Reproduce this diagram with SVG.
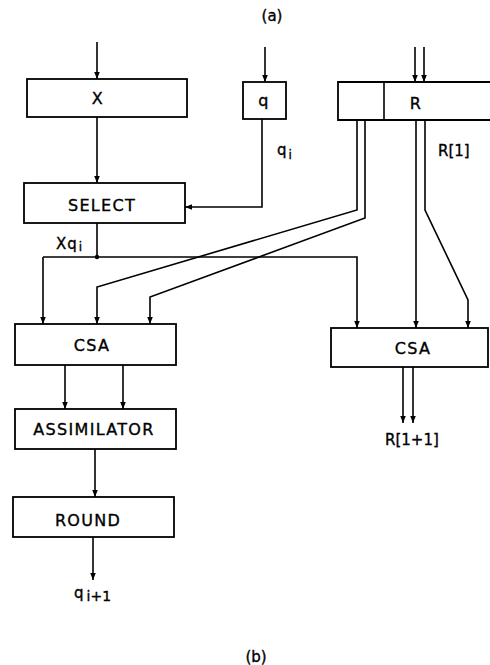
<svg xmlns="http://www.w3.org/2000/svg" width="490" height="665" viewBox="0 0 490 665">
<style>
.box{fill:#fff;stroke:#000;stroke-width:1.8}
.ln{fill:none;stroke:#000;stroke-width:1.6}
.arr{marker-end:url(#ah)}
text{font-family:"DejaVu Sans","Liberation Sans",sans-serif;fill:#000;stroke:#000;stroke-width:0.35}
.lbl{font-size:16px;letter-spacing:1.3px;text-anchor:middle;dominant-baseline:central}
.sm{font-size:15px}
.sub{font-size:12px}
</style>
<defs>
<marker id="ah" viewBox="0 0 10 10" refX="10" refY="5" markerWidth="7" markerHeight="7" markerUnits="userSpaceOnUse" orient="auto">
<path d="M0,1 L10,5 L0,9 Z" fill="#000"/>
</marker>
</defs>
<rect width="490" height="665" fill="#fff"/>
<text x="272" y="21" class="sm" text-anchor="middle">(a)</text>
<text x="256" y="662" class="sm" text-anchor="middle">(b)</text>

<g id="connectors">
<line class="ln arr" x1="97" y1="42" x2="97" y2="79"/>
<line class="ln arr" x1="97" y1="117" x2="97" y2="183"/>
<line class="ln arr" x1="265" y1="47" x2="265" y2="82"/>
<polyline class="ln arr" points="262,119 262,207 185,207"/>
<line class="ln arr" x1="415" y1="47" x2="415" y2="82"/>
<line class="ln arr" x1="424" y1="47" x2="424" y2="82"/>
<line class="ln" x1="97" y1="223" x2="97" y2="257"/>
<circle cx="97" cy="257" r="2.2" fill="#000"/>
<polyline class="ln arr" points="43,257 43,324"/>
<polyline class="ln arr" points="43,257 357,257 357,328"/>
<polyline class="ln arr" points="357,120 357,210 97,287 97,324"/>
<polyline class="ln arr" points="365,120 365,218 150,297 150,324"/>
<line class="ln arr" x1="416" y1="120" x2="416" y2="328"/>
<polyline class="ln arr" points="425,120 425,210 468,300 468,328"/>
<line class="ln arr" x1="65" y1="365" x2="65" y2="409"/>
<line class="ln arr" x1="123" y1="365" x2="123" y2="409"/>
<line class="ln arr" x1="95" y1="449" x2="95" y2="497"/>
<line class="ln arr" x1="93" y1="537" x2="93" y2="580"/>
<line class="ln arr" x1="403" y1="367" x2="403" y2="423"/>
<line class="ln arr" x1="413" y1="367" x2="413" y2="423"/>
</g>

<g id="node-x">
<rect class="box" x="27" y="79" width="160" height="38"/>
<text class="lbl" x="98" y="98">X</text>
</g>
<g id="node-q">
<rect class="box" x="243" y="82" width="43" height="37"/>
<text class="lbl" x="264" y="100">q</text>
</g>
<g id="node-r">
<path class="box" d="M490,82 H338 V120 H490"/>
<line class="ln" x1="384" y1="82" x2="384" y2="120" stroke-width="1.8"/>
<text class="lbl" x="416" y="103">R</text>
</g>
<g id="node-select">
<rect class="box" x="24" y="183" width="161" height="40"/>
<text class="lbl" x="102" y="205">SELECT</text>
</g>
<g id="node-csa-left">
<rect class="box" x="15" y="324" width="161" height="41"/>
<text class="lbl" x="92" y="345">CSA</text>
</g>
<g id="node-csa-right">
<rect class="box" x="331" y="328" width="157" height="39"/>
<text class="lbl" x="413" y="348">CSA</text>
</g>
<g id="node-assimilator">
<rect class="box" x="15" y="409" width="161" height="40"/>
<text class="lbl" x="94" y="429">ASSIMILATOR</text>
</g>
<g id="node-round">
<rect class="box" x="13" y="497" width="161" height="40"/>
<text class="lbl" x="88" y="520">ROUND</text>
</g>

<g id="labels">
<text x="277" y="155" class="sm">q<tspan class="sub" dx="2" dy="4">i</tspan></text>
<text x="438" y="156" class="sm">R[1]</text>
<text x="56" y="249" class="sm" letter-spacing="1">Xq<tspan class="sub" dx="1" dy="2">i</tspan></text>
<text x="385" y="445" class="sm">R[1+1]</text>
<text x="74" y="598" class="sm">q<tspan dx="3" dy="3" font-size="14">i+1</tspan></text>
</g>
</svg>
